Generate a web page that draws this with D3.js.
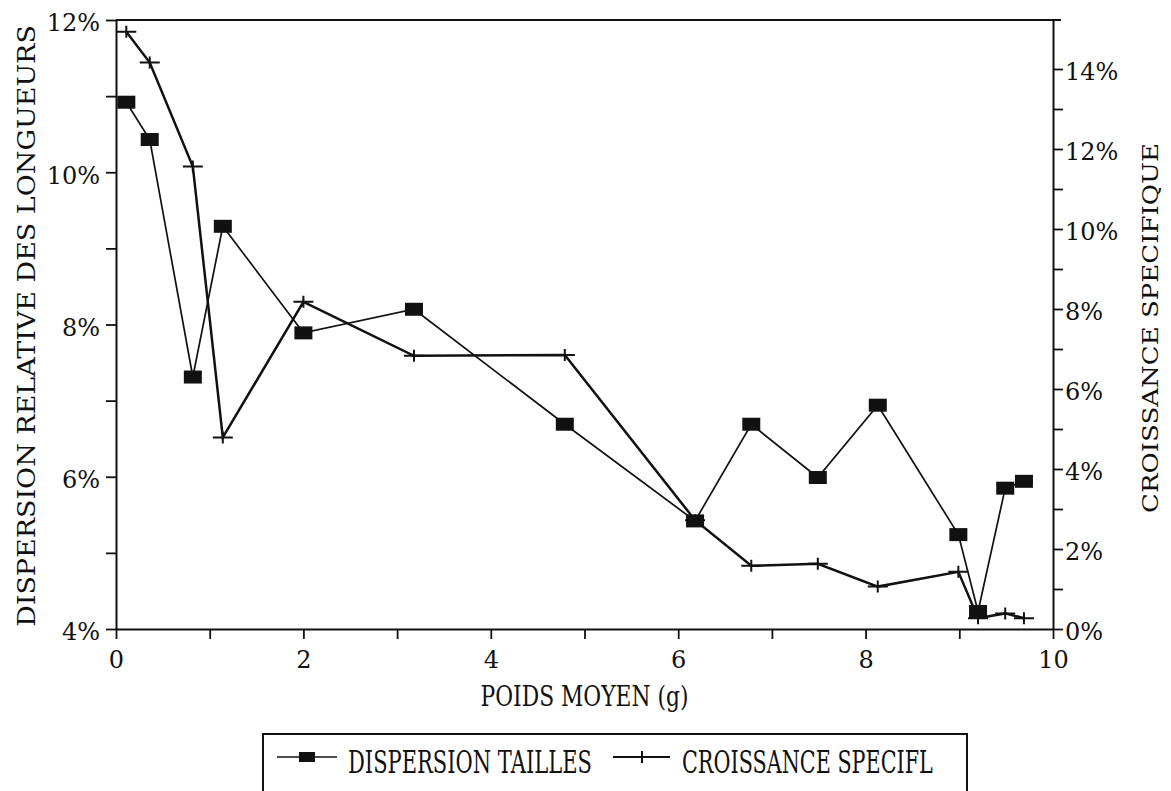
<!DOCTYPE html>
<html>
<head>
<meta charset="utf-8">
<script src="https://cdn.jsdelivr.net/npm/d3@7"></script>
<style>
  body{margin:0;background:#fff;}
  svg{display:block;}
</style>
</head>
<body>
<div id="chart"></div>
<script>
// poids moyen (g) for each sample
const poids = [0.11, 0.36, 0.82, 1.14, 2.0, 3.18, 4.79, 6.18, 6.78, 7.49, 8.13, 8.99, 9.2, 9.49, 9.69]
// left axis : dispersion relative des longueurs (%)
const dispersion = [10.92, 10.43, 7.31, 9.29, 7.89, 8.2, 6.69, 5.42, 6.69, 5.99, 6.94, 5.24, 4.23, 5.85, 5.94]
// right axis : croissance specifique (%)
const croissance = [14.93, 14.16, 11.56, 4.79, 8.18, 6.83, 6.85, 2.72, 1.58, 1.63, 1.06, 1.43, 0.27, 0.39, 0.27]

const xTicks = [0, 1, 2, 3, 4, 5, 6, 7, 8, 9, 10]
const leftTicks = [4, 5, 6, 7, 8, 9, 10, 11, 12]
const rightTicks = [0, 1, 2, 3, 4, 5, 6, 7, 8, 9, 10, 11, 12, 13, 14]

const width = 1171, height = 791
const padLeft = 116, padRight = 1053, padTop = 20, padBottom = 629
const serif = "'DejaVu Serif', 'Liberation Serif', serif"
const ink = "#111"

const svg = d3.select("#chart").append("svg").attr("width", width).attr("height", height)

const x = d3.scaleLinear().domain([0, 10]).range([padLeft, padRight])
const yL = d3.scaleLinear().domain([4, 12]).range([padBottom, padTop])
const yR = d3.scaleLinear().domain([0, 15.225]).range([padBottom, padTop])

//axes
const styleAxis = g => {
    g.attr("font-family", serif).attr("font-size", 24)
    g.selectAll("path.domain").attr("stroke", ink).attr("stroke-width", 2)
    g.selectAll(".tick line").attr("stroke", ink).attr("stroke-width", 1.8)
    g.selectAll(".tick text").attr("fill", ink)
}

svg.append("g").attr("transform", `translate(0,${padBottom})`)
    .call(d3.axisBottom(x).tickValues(xTicks).tickSize(10).tickSizeOuter(0).tickPadding(12)
        .tickFormat(d => d % 2 == 0 ? d : ""))
    .call(styleAxis)

svg.append("g").attr("transform", `translate(${padLeft},0)`)
    .call(d3.axisLeft(yL).tickValues(leftTicks).tickSize(10).tickSizeOuter(0).tickPadding(6)
        .tickFormat(d => d % 2 == 0 ? d + "%" : ""))
    .call(styleAxis)
    .call(g => g.selectAll(".tick text").attr("dy", "0.45em"))

svg.append("g").attr("transform", `translate(${padRight},0)`)
    .call(d3.axisRight(yR).tickValues(rightTicks).tickSize(10).tickSizeOuter(0).tickPadding(2)
        .tickFormat(d => d % 2 == 0 ? d + "%" : ""))
    .call(styleAxis)
    .call(g => g.selectAll(".tick text").attr("dy", "0.42em"))

// top frame line
svg.append("line").attr("x1", padLeft).attr("x2", padRight + 8).attr("y1", padTop).attr("y2", padTop)
    .attr("stroke", ink).attr("stroke-width", 2)

//this puts a text and squeezes it horizontally to a given width
function fitText(label, size, w, base, anchor) {
    let t = svg.append("text").attr("font-family", serif).attr("font-size", size)
        .attr("fill", ink).attr("text-anchor", anchor).text(label)
    let natural = t.node().getComputedTextLength()
    t.attr("transform", `${base} scale(${w / natural},1)`)
    return t
}

// axis titles
fitText("DISPERSION RELATIVE DES LONGUEURS", 24, 602, "translate(35,326) rotate(-90)", "middle")
fitText("CROISSANCE SPECIFIQUE", 23, 370, "translate(1158,328) rotate(-90)", "middle")
fitText("POIDS MOYEN (g)", 27, 208, `translate(${(padLeft + padRight) / 2},706)`, "middle")

//series
const dispData = poids.map((p, i) => ({x: p, y: dispersion[i]}))
const croiData = poids.map((p, i) => ({x: p, y: croissance[i]}))

svg.append("path").datum(dispData)
    .attr("d", d3.line().x(d => x(d.x)).y(d => yL(d.y)))
    .attr("fill", "none").attr("stroke", ink).attr("stroke-width", 1.7)

svg.append("path").datum(croiData)
    .attr("d", d3.line().x(d => x(d.x)).y(d => yR(d.y)))
    .attr("fill", "none").attr("stroke", ink).attr("stroke-width", 2.5)

const crossPath = "M-10,0H10M0,-6V6"
svg.selectAll(".cross").data(croiData).enter().append("path")
    .attr("class", "cross")
    .attr("transform", d => `translate(${x(d.x)},${yR(d.y)})`)
    .attr("d", crossPath).attr("fill", "none").attr("stroke", ink).attr("stroke-width", 2)

svg.selectAll(".sq").data(dispData).enter().append("rect")
    .attr("class", "sq")
    .attr("x", d => x(d.x) - 9).attr("y", d => yL(d.y) - 6.5)
    .attr("width", 18).attr("height", 13).attr("fill", ink)

// legend
const legend = svg.append("g")
legend.append("rect").attr("x", 263).attr("y", 734).attr("width", 704).attr("height", 90)
    .attr("fill", "none").attr("stroke", ink).attr("stroke-width", 2)

legend.append("line").attr("x1", 277).attr("x2", 337).attr("y1", 757).attr("y2", 757)
    .attr("stroke", ink).attr("stroke-width", 1.7)
legend.append("rect").attr("x", 299).attr("y", 752).attr("width", 16).attr("height", 10).attr("fill", ink)
fitText("DISPERSION TAILLES", 32, 244, "translate(348,773)", "start")

legend.append("line").attr("x1", 613).attr("x2", 670).attr("y1", 757).attr("y2", 757)
    .attr("stroke", ink).attr("stroke-width", 2)
legend.append("path").attr("transform", "translate(642,757)").attr("d", "M0,-6V6")
    .attr("stroke", ink).attr("stroke-width", 2)
fitText("CROISSANCE SPECIFL", 32, 251, "translate(682,773)", "start")
</script>
</body>
</html>
